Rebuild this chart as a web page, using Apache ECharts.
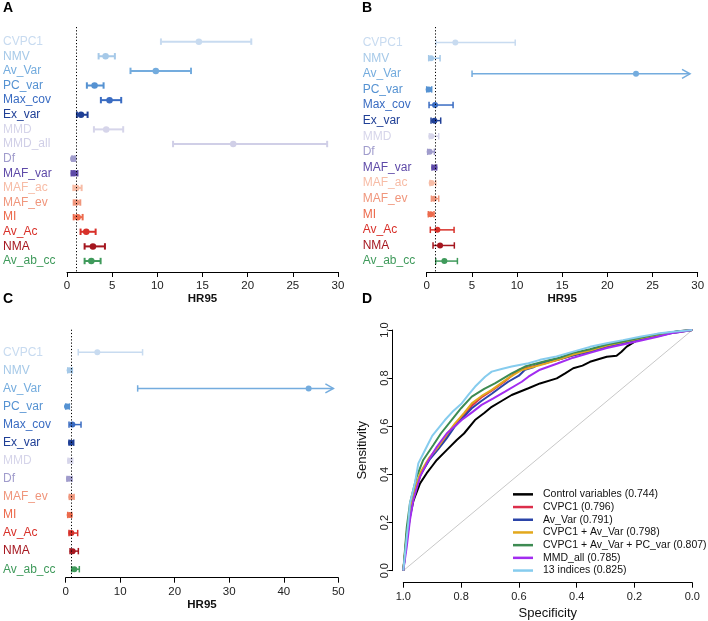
<!DOCTYPE html>
<html><head><meta charset="utf-8">
<script src="https://cdn.jsdelivr.net/npm/echarts@6/dist/echarts.min.js"></script>
<style>html,body{margin:0;padding:0;background:#fff}#c{width:708px;height:621px}</style>
</head><body><div id="c"></div>
<script>
// ---- Panel A (HR95) ----
const catsA = ['CVPC1','NMV','Av_Var','PC_var','Max_cov','Ex_var','MMD','MMD_all','Df','MAF_var','MAF_ac','MAF_ev','MI','Av_Ac','NMA','Av_ab_cc'];
const loA = [10.4,3.5,7.03,2.2,3.75,1.1,2.98,11.74,0.55,0.5,0.7,0.74,0.74,1.5,1.95,1.95];
const hrA = [14.6,4.27,9.83,3.05,4.71,1.55,4.34,18.4,0.7,0.77,1.03,1.03,1.18,2.13,2.87,2.69];
const hiA = [20.4,5.3,13.73,4.05,6.0,2.28,6.22,28.8,0.9,1.16,1.62,1.47,1.73,3.17,4.2,3.72];
// ---- Panel B ----
const catsB = ['CVPC1','NMV','Av_Var','PC_var','Max_cov','Ex_var','MMD','Df','MAF_var','MAF_ac','MAF_ev','MI','Av_Ac','NMA','Av_ab_cc'];
const loB = [1.03,0.22,5.02,0.0,0.26,0.48,0.3,0.11,0.59,0.37,0.52,0.18,0.4,0.7,1.0];
const hrB = [3.17,0.48,23.17,0.22,0.92,0.85,0.52,0.33,0.85,0.55,0.81,0.44,1.18,1.48,1.96];
const hiB = [9.8,1.48,29.15,0.55,2.92,1.55,1.33,0.85,1.1,1.0,1.33,0.81,3.03,3.06,3.4];
// ---- Panel C ----
const catsC = ['CVPC1','NMV','Av_Var','PC_var','Max_cov','Ex_var','MMD','Df','MAF_ev','MI','Av_Ac','NMA','Av_ab_cc'];
const loC = [2.3,0.37,13.2,0.0,0.61,0.61,0.43,0.24,0.67,0.37,0.61,0.8,1.1];
const hrC = [5.8,0.73,44.56,0.24,1.22,0.98,0.8,0.61,1.04,0.73,1.04,1.28,1.59];
const hiC = [14.1,1.22,49.1,0.67,2.81,1.47,1.28,1.16,1.53,1.1,2.2,2.32,2.5];
// upper CI truncated (drawn as arrow)
const truncated = { B: ['Av_Var'], C: ['Av_Var'] };
const refLine = 1;
const xTicksAB = { min: 0, max: 30, interval: 5 };
const xTicksC = { min: 0, max: 50, interval: 10 };

// ---- Panel D (ROC) : [specificity, sensitivity] ----
const rocNames = ['Control variables (0.744)','CVPC1 (0.796)','Av_Var (0.791)','CVPC1 + Av_Var (0.798)','CVPC1 + Av_Var + PC_var (0.807)','MMD_all (0.785)','13 indices (0.825)'];
const rocControl = [[1,0],[0.994,0.07],[0.988,0.128],[0.977,0.224],[0.965,0.29],[0.96,0.307],[0.942,0.363],[0.919,0.405],[0.9,0.435],[0.884,0.46],[0.85,0.501],[0.815,0.543],[0.79,0.57],[0.752,0.626],[0.72,0.655],[0.694,0.681],[0.66,0.705],[0.625,0.73],[0.567,0.758],[0.527,0.778],[0.469,0.799],[0.44,0.82],[0.412,0.841],[0.38,0.852],[0.354,0.868],[0.296,0.889],[0.262,0.893],[0.245,0.91],[0.227,0.931],[0.181,0.965],[0.123,0.979],[0.089,0.986],[0.05,0.995],[0,1]];
const rocCVPC1 = [[1,0],[0.994,0.075],[0.988,0.15],[0.977,0.25],[0.96,0.33],[0.94,0.40],[0.91,0.465],[0.879,0.51],[0.85,0.56],[0.821,0.607],[0.79,0.648],[0.763,0.685],[0.73,0.72],[0.694,0.748],[0.65,0.785],[0.6,0.835],[0.55,0.85],[0.51,0.862],[0.46,0.878],[0.412,0.895],[0.354,0.912],[0.296,0.932],[0.24,0.948],[0.181,0.963],[0.12,0.978],[0.066,0.99],[0,1]];
const rocAvVar = [[1,0],[0.994,0.07],[0.988,0.15],[0.977,0.25],[0.96,0.33],[0.94,0.40],[0.91,0.46],[0.879,0.505],[0.85,0.55],[0.821,0.6],[0.79,0.64],[0.763,0.675],[0.73,0.705],[0.694,0.735],[0.66,0.765],[0.637,0.785],[0.6,0.81],[0.579,0.835],[0.55,0.845],[0.527,0.862],[0.469,0.875],[0.412,0.895],[0.354,0.91],[0.296,0.928],[0.24,0.945],[0.181,0.96],[0.12,0.975],[0.066,0.988],[0,1]];
const rocCVAv = [[1,0],[0.994,0.08],[0.988,0.16],[0.977,0.26],[0.96,0.34],[0.94,0.41],[0.91,0.47],[0.879,0.515],[0.85,0.565],[0.821,0.612],[0.79,0.655],[0.763,0.695],[0.73,0.725],[0.694,0.751],[0.637,0.8],[0.59,0.834],[0.51,0.86],[0.46,0.878],[0.412,0.898],[0.354,0.915],[0.296,0.935],[0.24,0.95],[0.181,0.966],[0.12,0.98],[0.066,0.99],[0,1]];
const rocCVAvPC = [[1,0],[0.994,0.09],[0.988,0.18],[0.977,0.28],[0.954,0.39],[0.931,0.46],[0.896,0.522],[0.87,0.57],[0.833,0.626],[0.8,0.675],[0.763,0.723],[0.72,0.755],[0.683,0.778],[0.625,0.82],[0.579,0.848],[0.51,0.87],[0.46,0.885],[0.412,0.905],[0.354,0.92],[0.296,0.94],[0.24,0.952],[0.181,0.968],[0.12,0.982],[0.066,0.992],[0,1]];
const rocMMDall = [[1,0],[0.994,0.05],[0.988,0.1],[0.977,0.21],[0.965,0.294],[0.942,0.39],[0.919,0.446],[0.884,0.515],[0.85,0.57],[0.798,0.626],[0.76,0.66],[0.729,0.689],[0.69,0.715],[0.648,0.744],[0.59,0.785],[0.567,0.806],[0.527,0.835],[0.469,0.86],[0.412,0.885],[0.354,0.905],[0.296,0.925],[0.24,0.94],[0.181,0.955],[0.12,0.972],[0.066,0.988],[0,1]];
const roc13 = [[1,0],[0.994,0.072],[0.983,0.197],[0.977,0.28],[0.96,0.363],[0.948,0.446],[0.919,0.515],[0.9,0.56],[0.856,0.626],[0.83,0.66],[0.798,0.695],[0.775,0.73],[0.752,0.764],[0.717,0.806],[0.694,0.827],[0.66,0.838],[0.625,0.848],[0.567,0.862],[0.527,0.876],[0.47,0.89],[0.412,0.91],[0.354,0.93],[0.296,0.945],[0.24,0.958],[0.181,0.972],[0.12,0.985],[0.066,0.993],[0,1]];
const rocChance = [[1,0],[0,1]];

// ---- styles ----
const FONT = '"Liberation Sans", Arial, Helvetica, sans-serif';
const catColor = {
  CVPC1:'#c8dbf0', NMV:'#a6c9e8', Av_Var:'#74acde', PC_var:'#5592d2', Max_cov:'#3a6cc2', Ex_var:'#1f3f96',
  MMD:'#d6d5ea', MMD_all:'#d0cfe7', Df:'#a09ccc', MAF_var:'#5e4aa8',
  MAF_ac:'#f7bca6', MAF_ev:'#f0967c', MI:'#ec6a4c', Av_Ac:'#d8312a', NMA:'#a5161f', Av_ab_cc:'#3f9a5b'
};
const rocColors = ['#000000','#dc2e4a','#2b44a8','#e3a81c','#3d8b52','#a22cf0','#86ccee'];

const chart = echarts.init(document.getElementById('c'), null, {renderer:'canvas'});

function labelAxis(cats, gridIndex, min, max, interval, margin) {
  const rich = {};
  cats.forEach((c,i)=>{ rich['c'+i] = {color: catColor[c], fontSize: 12, fontFamily: FONT}; });
  return {
    type:'value', gridIndex, min, max, interval, inverse:true,
    axisLine:{show:false, onZero:false}, axisTick:{show:false}, splitLine:{show:false},
    axisLabel:{
      align:'left', margin, rich, showMinLabel:true, showMaxLabel:true,
      formatter:(v)=>{ const r=Math.round(v); if (Math.abs(v-r)>1e-6 || r<0 || r>=cats.length) return ''; return '{c'+r+'|'+cats[r]+'}'; }
    }
  };
}
function hrAxis(gridIndex, t, nameGap) {
  return {
    type:'value', gridIndex, min:t.min, max:t.max, interval:t.interval,
    axisLine:{show:true, onZero:false, lineStyle:{color:'#000', width:1}},
    axisTick:{show:true, length:5, lineStyle:{color:'#000'}},
    splitLine:{show:false},
    axisLabel:{fontSize:11.5, color:'#222', margin:8, fontFamily:FONT},
    name:'HR95', nameLocation:'middle', nameGap,
    nameTextStyle:{fontSize:11.5, fontWeight:'bold', color:'#111', fontFamily:FONT}
  };
}
function forest(cats, lo, hr, hi, idx, trunc, lw, dot) {
  const data = cats.map((c,i)=>[lo[i], hi[i], i, trunc.includes(c)?1:0]);
  return [{
    type:'custom', xAxisIndex:idx, yAxisIndex:idx, z:2, silent:true,
    encode:{x:[0,1], y:2},
    data,
    renderItem(params, api){
      const i = api.value(2);
      const a = api.coord([api.value(0), i]);
      const b = api.coord([api.value(1), i]);
      const col = catColor[cats[i]];
      const st = {stroke:col, lineWidth:lw, fill:null};
      const ch = [
        {type:'line', shape:{x1:a[0],y1:a[1],x2:b[0],y2:b[1]}, style:st},
        {type:'line', shape:{x1:a[0],y1:a[1]-3.2,x2:a[0],y2:a[1]+3.2}, style:st}
      ];
      if (api.value(3)) {
        ch.push({type:'polyline', shape:{points:[[b[0]-8,b[1]-4.5],[b[0],b[1]],[b[0]-8,b[1]+4.5]]}, style:st});
      } else {
        ch.push({type:'line', shape:{x1:b[0],y1:b[1]-3.2,x2:b[0],y2:b[1]+3.2}, style:st});
      }
      return {type:'group', children:ch};
    }
  },{
    type:'scatter', xAxisIndex:idx, yAxisIndex:idx, z:3, silent:true,
    symbol:'circle', symbolSize:dot,
    data: hr.map((v,i)=>[v,i]),
    itemStyle:{color:(p)=>catColor[cats[p.dataIndex]], opacity:1},
    markLine:{
      silent:true, symbol:'none', label:{show:false},
      lineStyle:{color:'#000', width:1, type:[1.2,2]},
      data:[{xAxis:refLine}]
    }
  }];
}

const rocData = [rocControl, rocCVPC1, rocAvVar, rocCVAv, rocCVAvPC, rocMMDall, roc13];

const option = {
  animation:false,
  textStyle:{fontFamily:FONT},
  grid:[
    {left:67, right:370, top:27, bottom:349},
    {left:426.7, right:10.3, top:27, bottom:349},
    {left:65.7, right:369.7, top:329.7, bottom:43.3},
    {left:403.3, right:15.7, top:330, bottom:50.3}
  ],
  xAxis:[
    hrAxis(0, xTicksAB, 20),
    hrAxis(1, xTicksAB, 20),
    hrAxis(2, xTicksC, 21),
    {
      type:'value', gridIndex:3, min:0, max:1, interval:0.2, inverse:true, offset:12,
      axisLine:{show:true, onZero:false, lineStyle:{color:'#000'}},
      axisTick:{show:true, length:5, lineStyle:{color:'#000'}},
      splitLine:{show:false},
      axisLabel:{fontSize:11, color:'#222', margin:9, formatter:(v)=>v.toFixed(1)},
      name:'Specificity', nameLocation:'middle', nameGap:24,
      nameTextStyle:{fontSize:13, color:'#111'}
    }
  ],
  yAxis:[
    labelAxis(catsA, 0, -1, 15.75, 1, 64),
    labelAxis(catsB, 1, -1, 14.7, 1, 64),
    labelAxis(catsC, 2, -1.25, 12.47, 0.25, 62.7),
    {
      type:'value', gridIndex:3, min:0, max:1, interval:0.2, offset:11,
      axisLine:{show:true, onZero:false, lineStyle:{color:'#000'}},
      axisTick:{show:true, length:4, lineStyle:{color:'#000'}},
      splitLine:{show:false},
      axisLabel:{fontSize:11, color:'#222', margin:2, rotate:90, formatter:(v)=>v.toFixed(1)},
      name:'Sensitivity', nameLocation:'middle', nameGap:23, nameRotate:90,
      nameTextStyle:{fontSize:13, color:'#111'}
    }
  ],
  legend:{
    orient:'vertical', left:513, top:488, padding:0, itemGap:0,
    itemWidth:20, itemHeight:2.5, icon:'rect',
    textStyle:{fontSize:10.5, color:'#111', lineHeight:12.7, padding:[0,0,0,5]},
    data: rocNames
  },
  graphic:[
    {type:'text', left:3, top:1, style:{text:'A', font:'bold 14px '+FONT, fill:'#000'}},
    {type:'text', left:362, top:1, style:{text:'B', font:'bold 14px '+FONT, fill:'#000'}},
    {type:'text', left:3, top:292, style:{text:'C', font:'bold 14px '+FONT, fill:'#000'}},
    {type:'text', left:362, top:292, style:{text:'D', font:'bold 14px '+FONT, fill:'#000'}}
  ],
  series:[
    ...forest(catsA, loA, hrA, hiA, 0, [], 2, 6.5),
    ...forest(catsB, loB, hrB, hiB, 1, truncated.B, 1.5, 6),
    ...forest(catsC, loC, hrC, hiC, 2, truncated.C, 1.5, 6),
    {type:'line', xAxisIndex:3, yAxisIndex:3, data:rocChance, showSymbol:false, silent:true,
     lineStyle:{color:'#c8c8c8', width:1}, z:1},
    ...rocNames.map((n,k)=>({
      type:'line', name:n, xAxisIndex:3, yAxisIndex:3, data:rocData[k], showSymbol:false, symbol:'none',
      silent:true, color:rocColors[k], lineStyle:{color:rocColors[k], width:2}, z:2+k*0.01
    }))
  ]
};
chart.setOption(option);
</script></body></html>
